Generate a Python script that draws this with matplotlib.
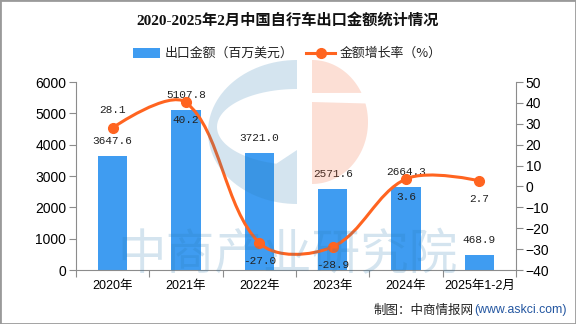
import numpy as np
from matplotlib import pyplot as plt
from matplotlib.patches import Polygon, Rectangle
from matplotlib.path import Path
from matplotlib.patches import PathPatch
from matplotlib.lines import Line2D

# data
categories = ["2020年", "2021年", "2022年", "2023年", "2024年", "2025年1-2月"]
export_value = [3647.6, 5107.8, 3721.0, 2571.6, 2664.3, 468.9]
growth_rate = [28.1, 40.2, -27.0, -28.9, 3.6, 2.7]
growth_label_side = [-1, 1, 1, 1, 1, 1]  # -1 above the point, 1 below

W, H = 576, 324
CJK = "Noto Sans CJK SC"
bar_color = "#3f9cf1"
line_color = "#ff6420"
axis_color = "#8c8c8c"


def fx(x):
    return x / W


def fy(y):
    return 1 - y / H


fig = plt.figure(figsize=(W / 100, H / 100), dpi=100)
fig.patch.set_facecolor("white")

ax = fig.add_axes([fx(76), fy(270), fx(516) - fx(76), fy(82) - fy(270)])
ax2 = ax.twinx()

x = np.arange(len(categories))
ax.bar(x, export_value, width=0.4, color=bar_color, zorder=2)
ax.set_xlim(-0.5, len(categories) - 0.5)
ax.set_ylim(0, 6000)
ax.set_yticks(range(0, 6001, 1000))
ax2.set_ylim(-40, 50)
ax2.set_yticks(range(-40, 51, 10))

# spines and ticks
for a in (ax, ax2):
    a.spines["top"].set_visible(False)
    a.patch.set_visible(False)
ax.spines["right"].set_visible(False)
ax2.spines["left"].set_visible(False)
ax2.spines["bottom"].set_visible(False)
ax.spines["left"].set_color(axis_color)
ax.spines["bottom"].set_color(axis_color)
ax2.spines["right"].set_color(axis_color)

ax.set_xticks(np.arange(-0.5, len(categories), 1.0))
ax.set_xticklabels([])
ax.set_xticks(x, minor=True)
ax.set_xticklabels(categories, minor=True, family=["Liberation Sans", CJK], fontsize=9)
ax.tick_params(axis="x", which="major", length=5, color=axis_color)
ax.tick_params(axis="x", which="minor", length=0, pad=7)
ax.tick_params(axis="y", length=5, color=axis_color, labelsize=10, pad=2)
ax2.tick_params(axis="y", length=5, color=axis_color, labelsize=10, pad=2)
for lab in ax.get_yticklabels() + ax2.get_yticklabels():
    lab.set_family("Liberation Sans")

# smooth line (bezier through the points) built in pixel space
pts = ax2.transData.transform(np.column_stack([x, growth_rate]))
smooth = 0.35
n = len(pts)
cp_in = [None] * n
cp_out = [None] * n
for i in range(n):
    p = pts[i]
    if i == 0 or i == n - 1:
        cp_in[i] = p
        cp_out[i] = p
        continue
    prev, nxt = pts[i - 1], pts[i + 1]
    v = nxt - prev
    d0 = np.hypot(*(p - prev))
    d1 = np.hypot(*(nxt - p))
    r = d1 / (d0 + d1)
    cp_in[i] = p - v * smooth * (1 - r)
    cp_out[i] = p + v * smooth * r
verts = [pts[0]]
codes = [Path.MOVETO]
for i in range(n - 1):
    verts += [cp_out[i], cp_in[i + 1], pts[i + 1]]
    codes += [Path.CURVE4] * 3
verts = ax2.transData.inverted().transform(np.array(verts))
ax2.add_patch(PathPatch(Path(verts, codes), facecolor="none", edgecolor=line_color,
                        lw=2.2, zorder=3, capstyle="round"))
ax2.plot(x, growth_rate, "o", color=line_color, markersize=7, zorder=4)

# data labels
for xi, v in zip(x, export_value):
    ax.annotate(f"{v:.1f}", (xi, v), xytext=(0, 15), textcoords="offset pixels",
                ha="center", va="center", family="Liberation Mono", fontsize=8,
                color="#222222", zorder=6)
for xi, v, s in zip(x, growth_rate, growth_label_side):
    ax2.annotate(f"{v:.1f}", (xi, v), xytext=(0, -18 * s), textcoords="offset pixels",
                 ha="center", va="center", family="Liberation Mono", fontsize=8,
                 color="#222222", zorder=6)

# watermark logo and text (drawn on top, faint)
wm_blue = "#2a7ab0"
wm_orange = "#f06030"
t_out = np.radians(np.linspace(90, 270, 60))
outer = np.column_stack([297 + 89 * np.cos(t_out), 132 - 72 * np.sin(t_out)])
t_in = np.radians(np.linspace(255, 90, 60))
inner = np.column_stack([297 + 80 * np.cos(t_in), 127 - 38 * np.sin(t_in)])
blue_shape = np.vstack([outer, [[297, 150]], inner])
fig.add_artist(Polygon(np.column_stack([fx(blue_shape[:, 0]), fy(blue_shape[:, 1])]),
                       closed=True, facecolor=wm_blue, edgecolor="none", alpha=0.2,
                       transform=fig.transFigure, zorder=5))

t_or = np.radians(np.linspace(90, -90, 120))
half = np.column_stack([312 + 56 * np.cos(t_or), 122 - 62 * np.sin(t_or)])
top_part = half[half[:, 1] <= 93]
top_part = np.vstack([top_part, [[312, 93]]])
bot_part = half[half[:, 1] >= 102]
bot_part = np.vstack([[[312, 102]], bot_part])
for part in (top_part, bot_part):
    fig.add_artist(Polygon(np.column_stack([fx(part[:, 0]), fy(part[:, 1])]),
                           closed=True, facecolor=wm_orange, edgecolor="none", alpha=0.2,
                           transform=fig.transFigure, zorder=5))

fig.text(fx(288), fy(255), "中商产业研究院", ha="center", va="center", family=CJK,
         fontsize=35, color=wm_blue, alpha=0.2, zorder=5)

# title
fig.text(fx(288), fy(20), "2020-2025年2月中国自行车出口金额统计情况", ha="center", va="center",
         family=["Liberation Serif", CJK], fontsize=11, fontweight="bold", color="#111111")

# legend drawn by hand
fig.add_artist(Rectangle((fx(133), fy(58)), fx(27), 10 / H, facecolor=bar_color,
                         edgecolor="none", transform=fig.transFigure))
fig.text(fx(165), fy(53), "出口金额（百万美元）", ha="left", va="center", family=CJK,
         fontsize=9.3, color="#222222")
fig.add_artist(Line2D([fx(306), fx(335)], [fy(53), fy(53)], color=line_color, lw=2.2,
                      transform=fig.transFigure))
fig.add_artist(Line2D([fx(320.5)], [fy(53)], marker="o", color=line_color, markersize=7,
                      transform=fig.transFigure))
fig.text(fx(340), fy(53), "金额增长率（%）", ha="left", va="center", family=CJK,
         fontsize=9.3, color="#222222")

# source note
fig.text(fx(474), fy(310), "制图：中商情报网", ha="right", va="center", family=CJK,
         fontsize=9, color="#222222")
fig.text(fx(474), fy(310), "(www.askci.com)", ha="left", va="center",
         family="Liberation Sans", fontsize=8.8, color="#2255a0")

# outer border
fig.add_artist(Rectangle((0, 0), 1, 1, facecolor="none", edgecolor="#9a9a9a", lw=2,
                         transform=fig.transFigure))

fig.savefig("out.png", dpi=100)
